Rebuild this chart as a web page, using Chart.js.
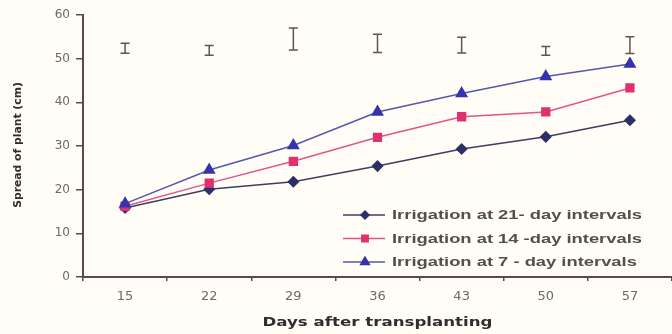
<!DOCTYPE html>
<html>
<head>
<meta charset="utf-8">
<script src="https://cdn.jsdelivr.net/npm/chart.js@4.4.1/dist/chart.umd.min.js"></script>
<style>
  html, body { margin: 0; padding: 0; background: #fffdf6; }
  #wrap { width: 672px; height: 334px; position: relative; }
</style>
</head>
<body>
<div id="wrap"><canvas id="c" width="672" height="334"></canvas></div>
<script>
// ---- data ----
const days = ['15', '22', '29', '36', '43', '50', '57'];
const irrigation21 = [15.8, 20.1, 21.8, 25.4, 29.3, 32.1, 35.9];
const irrigation14 = [16.2, 21.5, 26.5, 32.0, 36.7, 37.8, 43.3];
const irrigation7  = [16.8, 24.5, 30.1, 37.8, 42.0, 45.9, 48.8];
const lsdCenter = [52.4, 51.9, 54.5, 53.5, 53.1, 51.8, 53.1];
const lsdHalf   = [1.15, 1.1, 2.5, 2.1, 1.8, 1.0, 1.9];
const seriesNames = ['Irrigation at 21- day intervals', 'Irrigation at 14 -day intervals', 'Irrigation at 7 - day intervals'];
const yTicks = [0, 10, 20, 30, 40, 50, 60];
const xTitle = 'Days after transplanting';
const yTitle = 'Spread of plant (cm)';

const AXIS = '#5a4c44';
const STRETCH = 1.28; // the reference text is horizontally stretched

function stretchedText(ctx, text, x, y, font, color, sx, rot) {
  ctx.save();
  ctx.translate(x, y);
  if (rot) ctx.rotate(rot);
  ctx.scale(sx, 1);
  ctx.font = font;
  ctx.fillStyle = color;
  ctx.textBaseline = 'middle';
  ctx.textAlign = 'center';
  ctx.fillText(text, 0, 0);
  ctx.restore();
}

const bgPlugin = {
  id: 'bg',
  beforeDraw(chart) {
    const ctx = chart.ctx;
    ctx.save();
    ctx.fillStyle = '#fffdf6';
    ctx.fillRect(0, 0, chart.width, chart.height);
    ctx.restore();
  }
};

const lsdPlugin = {
  id: 'lsd',
  afterDatasetsDraw(chart) {
    const ctx = chart.ctx, xs = chart.scales.x, ys = chart.scales.y;
    ctx.save();
    ctx.strokeStyle = '#5c5650';
    ctx.lineWidth = 1.5;
    lsdCenter.forEach((c, i) => {
      const x = xs.getPixelForValue(i);
      const yt = ys.getPixelForValue(c + lsdHalf[i]);
      const yb = ys.getPixelForValue(c - lsdHalf[i]);
      ctx.beginPath();
      ctx.moveTo(x, yt); ctx.lineTo(x, yb);
      ctx.moveTo(x - 4.5, yt); ctx.lineTo(x + 4.5, yt);
      ctx.moveTo(x - 4.5, yb); ctx.lineTo(x + 4.5, yb);
      ctx.stroke();
    });
    ctx.restore();
  }
};

const titlesPlugin = {
  id: 'titles',
  afterDraw(chart) {
    const ctx = chart.ctx, ca = chart.chartArea;
    stretchedText(ctx, xTitle, (ca.left + ca.right) / 2, 323,
      'bold 13px "DejaVu Sans"', '#2e2e2e', STRETCH, 0);
    stretchedText(ctx, yTitle, 18, (ca.top + ca.bottom) / 2 - 1,
      'bold 10px "DejaVu Sans"', '#2e2e2e', 1.08, -Math.PI / 2);
  }
};

const legendPlugin = {
  id: 'legendInside',
  afterDraw(chart) {
    const ctx = chart.ctx;
    const ca = chart.chartArea;
    const x0 = ca.left + 260, y0 = ca.top + 200, rowH = 23.5;
    const order = [2, 1, 0];
    const font = 'bold 12px "Liberation Sans"';
    ctx.save();
    ctx.font = font;
    const sx = 250 / ctx.measureText(seriesNames[0]).width;
    order.forEach((di, i) => {
      const d = chart.data.datasets[di];
      const y = y0 + i * rowH;
      ctx.strokeStyle = d.borderColor;
      ctx.lineWidth = 1.5;
      ctx.beginPath();
      ctx.moveTo(x0, y); ctx.lineTo(x0 + 42, y);
      ctx.stroke();
      ctx.fillStyle = d.pointBackgroundColor;
      ctx.strokeStyle = d.pointBorderColor;
      Chart.helpers.drawPoint(ctx, { pointStyle: d.pointStyle, radius: d.pointRadius - 1, borderWidth: 1 }, x0 + 22, y);
      ctx.save();
      ctx.translate(x0 + 49, y + 1);
      ctx.scale(sx, 1);
      ctx.fillStyle = '#505050';
      ctx.font = font;
      ctx.textBaseline = 'middle';
      ctx.textAlign = 'left';
      ctx.fillText(d.label, 0, 0);
      ctx.restore();
    });
    ctx.restore();
  }
};

const ds = (label, data, line, fill, style, r) => ({
  label, data,
  borderColor: line, backgroundColor: fill,
  pointBackgroundColor: fill, pointBorderColor: fill,
  pointStyle: style, pointRadius: r, pointHoverRadius: r,
  borderWidth: 1.5, tension: 0, fill: false
});

const chart = new Chart(document.getElementById('c'), {
  type: 'line',
  data: {
    labels: days,
    datasets: [
      ds(seriesNames[2], irrigation7, '#5558ad', '#3434ac', 'triangle', 6),
      ds(seriesNames[1], irrigation14, '#e25686', '#e0306e', 'rect', 5.5),
      ds(seriesNames[0], irrigation21, '#3c3f5e', '#2c3066', 'rectRot', 5)
    ]
  },
  options: {
    responsive: false,
    animation: false,
    devicePixelRatio: 1,
    layout: { autoPadding: false, padding: { top: 15, right: 0, left: 0, bottom: 0 } },
    plugins: { legend: { display: false }, tooltip: { enabled: false } },
    scales: {
      x: {
        type: 'category',
        offset: true,
        grid: { offset: true, drawOnChartArea: false, tickLength: 4, color: AXIS, lineWidth: 1.5 },
        border: { color: AXIS, width: 2 },
        ticks: { color: '#6a6a6a', font: { family: 'DejaVu Sans', size: 13 }, padding: 8, maxRotation: 0 },
        afterFit(s) { s.height = 57; s.paddingLeft = 0; s.paddingRight = 0; }
      },
      y: {
        min: 0, max: 60,
        afterBuildTicks(s) { s.ticks = yTicks.map(v => ({ value: v })); },
        grid: { drawOnChartArea: false, tickLength: 7, color: AXIS, lineWidth: 1.5 },
        border: { color: AXIS, width: 2 },
        ticks: { color: '#6a6a6a', font: { family: 'DejaVu Sans', size: 12 }, padding: 6 },
        afterFit(s) { s.width = 83; s.paddingTop = 0; s.paddingBottom = 0; }
      }
    }
  },
  plugins: [bgPlugin, lsdPlugin, titlesPlugin, legendPlugin]
});
</script>
</body>
</html>
